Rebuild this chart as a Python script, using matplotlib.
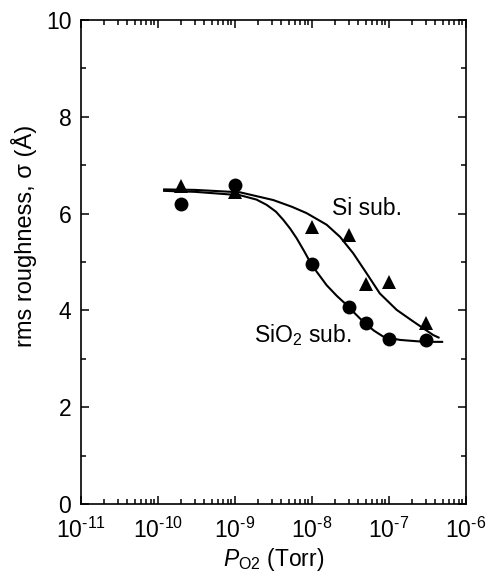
import matplotlib
matplotlib.use("Agg")
import matplotlib.pyplot as plt
from matplotlib.ticker import LogLocator, MultipleLocator, FixedLocator

plt.rcParams['font.family'] = ['Liberation Sans', 'DejaVu Sans']
plt.rcParams['mathtext.fontset'] = 'custom'
plt.rcParams['mathtext.rm'] = 'Liberation Sans'
plt.rcParams['mathtext.it'] = 'Liberation Sans:italic'

# measured points (Torr, Angstrom)
si_p = [2e-10, 1e-9, 1e-8, 3e-8, 5e-8, 1e-7, 3e-7]
si_sigma = [6.57, 6.45, 5.73, 5.56, 4.55, 4.58, 3.73]

sio2_p = [2e-10, 1e-9, 1e-8, 3e-8, 5e-8, 1e-7, 3e-7]
sio2_sigma = [6.20, 6.60, 4.96, 4.08, 3.75, 3.41, 3.39]

# fitted curves
si_fit_p = [1.2e-10, 3e-10, 1.16e-9, 3.14e-9, 5.5e-9, 8.5e-9, 1.55e-8, 2.31e-8,
            3.43e-8, 5.1e-8, 7.6e-8, 1.26e-7, 2.07e-7, 3.76e-7, 4.4e-7]
si_fit_sigma = [6.50, 6.49, 6.44, 6.28, 6.14, 6.01, 5.77, 5.52,
                5.18, 4.77, 4.35, 4.01, 3.77, 3.49, 3.44]

sio2_fit_p = [1.2e-10, 3e-10, 1.16e-9, 1.9e-9, 2.58e-9, 3.4e-9, 4.24e-9, 5.2e-9,
              6.32e-9, 8e-9, 9.9e-9, 1.55e-8, 2.1e-8, 2.83e-8, 3.7e-8, 4.88e-8,
              6.4e-8, 8.4e-8, 1.1e-7, 1.39e-7, 2e-7, 2.94e-7, 4.9e-7]
sio2_fit_sigma = [6.47, 6.45, 6.38, 6.29, 6.18, 6.04, 5.87, 5.69,
                  5.49, 5.21, 4.94, 4.52, 4.30, 4.11, 3.92, 3.73,
                  3.58, 3.46, 3.42, 3.39, 3.37, 3.35, 3.35]

fig = plt.figure(figsize=(4.95, 5.75), dpi=100)
ax = fig.add_axes([81 / 495, 71 / 575, 385 / 495, 484 / 575])

ax.plot(si_fit_p, si_fit_sigma, color='black', lw=1.5)
ax.plot(sio2_fit_p, sio2_fit_sigma, color='black', lw=1.5)
ax.plot(si_p, si_sigma, '^', color='black', ms=10.5, mew=0)
ax.plot(sio2_p, sio2_sigma, 'o', color='black', ms=10, mew=0)

ax.set_xscale('log')
ax.set_xlim(1e-11, 1e-6)
ax.set_ylim(0, 10)
ax.xaxis.set_major_locator(FixedLocator([1e-11, 1e-10, 1e-9, 1e-8, 1e-7, 1e-6]))
ax.xaxis.set_minor_locator(LogLocator(base=10, subs=range(2, 10), numticks=20))
ax.set_xticklabels(['$10^{\\text{-11}}$', '$10^{\\text{-10}}$', '$10^{\\text{-9}}$',
                    '$10^{\\text{-8}}$', '$10^{\\text{-7}}$', '$10^{\\text{-6}}$'])
ax.yaxis.set_major_locator(MultipleLocator(2))
ax.yaxis.set_minor_locator(MultipleLocator(1))

ax.tick_params(which='both', direction='in', top=True, right=True,
               labelsize=16.5, width=1.1)
ax.tick_params(which='major', length=6, pad=7)
ax.tick_params(axis='x', which='major', pad=10)
ax.tick_params(which='minor', length=3.5)
for s in ax.spines.values():
    s.set_linewidth(1.2)

ax.annotate('Si sub.', xy=(332 / 495, 1 - 215 / 575), xycoords='figure fraction',
            fontsize=16.5, ha='left', va='baseline')
ax.annotate('SiO$_2$ sub.', xy=(254 / 495, 1 - 342 / 575), xycoords='figure fraction',
            fontsize=16.5, ha='left', va='baseline')

ax.set_ylabel('rms roughness, σ (Å)', fontsize=17)
ax.yaxis.set_label_coords(-0.114, 0.554)
ax.set_xlabel('$\\mathit{P}_{\\mathrm{O2}}$ (Torr)', fontsize=16.5)
ax.xaxis.set_label_coords(0.5, -0.087)

fig.savefig('out.png', dpi=100)
